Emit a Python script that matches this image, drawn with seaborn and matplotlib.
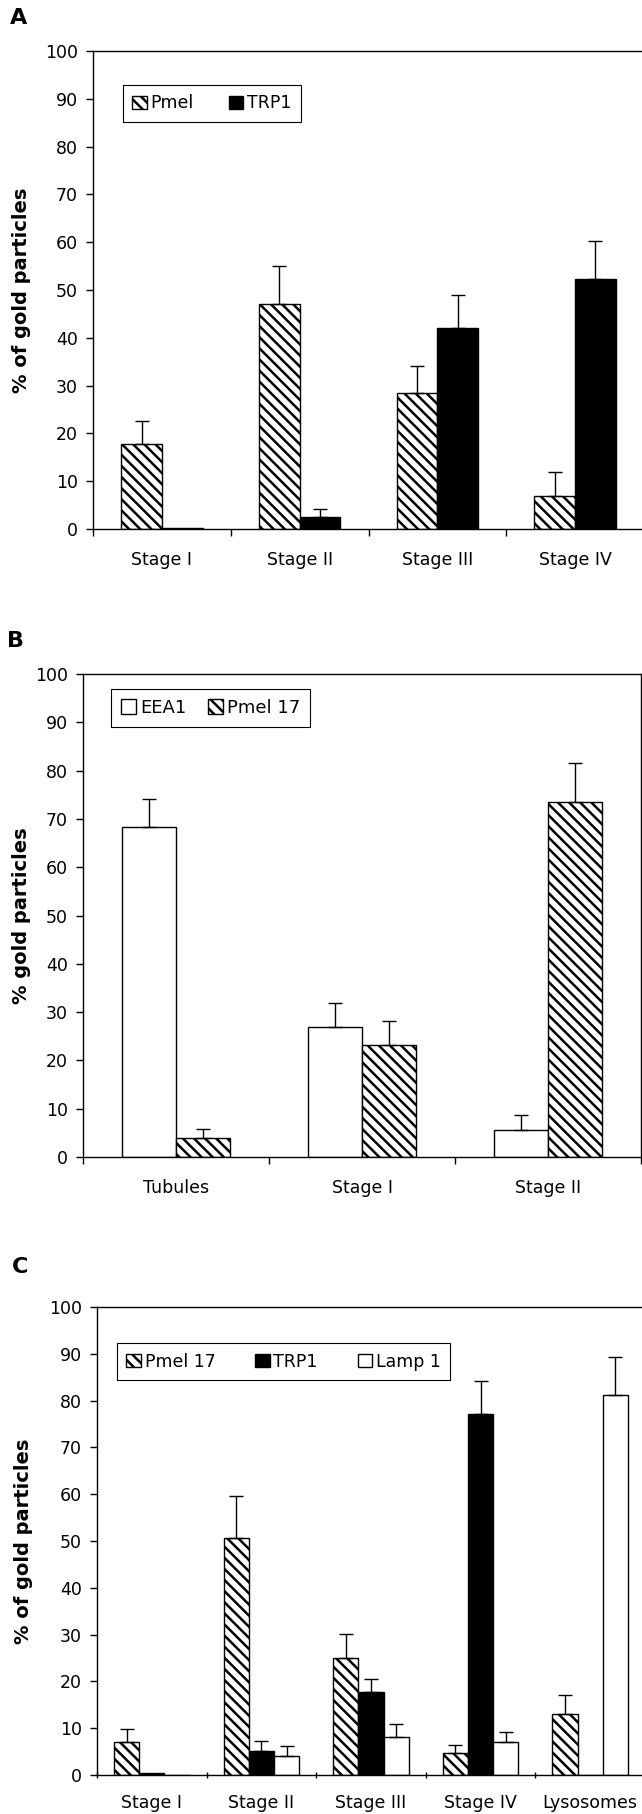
import numpy as np
import pandas as pd
import seaborn as sns
import matplotlib.pyplot as plt

# ---- panel A data ----
a_cats = ['Stage I', 'Stage II', 'Stage III', 'Stage IV']
a_series = ['Pmel', 'TRP1']
a_pmel = [17.8, 47.0, 28.4, 7.0]
a_pmel_err = [4.8, 8.0, 5.8, 5.0]
a_trp1 = [0.2, 2.5, 42.1, 52.2]
a_trp1_err = [0.0, 1.7, 6.9, 8.0]

# ---- panel B data ----
b_cats = ['Tubules', 'Stage I', 'Stage II']
b_series = ['EEA1', 'Pmel 17']
b_eea1 = [68.4, 26.9, 5.6]
b_eea1_err = [5.8, 4.9, 3.0]
b_pmel = [3.9, 23.2, 73.4]
b_pmel_err = [1.8, 5.0, 8.1]

# ---- panel C data ----
c_cats = ['Stage I', 'Stage II', 'Stage III', 'Stage IV', 'Lysosomes']
c_series = ['Pmel 17', 'TRP1', 'Lamp 1']
c_pmel = [7.1, 50.6, 25.1, 4.6, 13.1]
c_pmel_err = [2.8, 9.1, 5.0, 1.9, 4.1]
c_trp1 = [0.4, 5.1, 17.8, 77.2, 0.0]
c_trp1_err = [0.0, 2.1, 2.8, 6.9, 0.0]
c_lamp = [0.1, 4.0, 8.1, 7.1, 81.2]
c_lamp_err = [0.0, 2.1, 2.9, 2.1, 8.1]

sns.set_style('ticks')
plt.rcParams['font.family'] = ['DejaVu Sans']
plt.rcParams['hatch.linewidth'] = 1.8
# seaborn's ticks style greys the text; the figure uses plain black
for key in ['text.color', 'axes.labelcolor', 'xtick.color', 'ytick.color',
            'axes.edgecolor']:
    plt.rcParams[key] = 'black'

FILL = {'Pmel': 'white', 'Pmel 17': 'white', 'TRP1': 'black',
        'EEA1': 'white', 'Lamp 1': 'white'}
HATCHED = ('Pmel', 'Pmel 17')

W, H = 642, 1814


def make_frame(cats, series, values):
    rows = []
    for name, vals in zip(series, values):
        for c, v in zip(cats, vals):
            rows.append({'cat': c, 'series': name, 'val': v})
    return pd.DataFrame(rows)


def panel(ax, cats, series, values, errors, width, ylabel, label_x,
          leg_xy, leg_fs, colspacing, xpad, right_spine, tick_dir):
    df = make_frame(cats, series, values)
    sns.barplot(data=df, x='cat', y='val', hue='series', order=cats,
                hue_order=series, palette=FILL, width=width, gap=0,
                edgecolor='black', linewidth=1.0, errorbar=None,
                saturation=1, legend=False, ax=ax)

    # hatching + upper-only error bars
    for cont, name, errs in zip(ax.containers, series, errors):
        xs, ys, es = [], [], []
        for bar, e in zip(cont, errs):
            if name in HATCHED:
                bar.set_hatch('\\\\\\')
            if e > 0:
                xs.append(bar.get_x() + bar.get_width() / 2)
                ys.append(bar.get_height())
                es.append(e)
        ax.errorbar(xs, ys, yerr=[np.zeros(len(es)), es], fmt='none',
                    ecolor='black', elinewidth=1.0, capsize=5, capthick=1.0)

    ax.set_ylim(0, 100)
    ax.set_xlim(-0.5, len(cats) - 0.5)
    ax.set_yticks(range(0, 101, 10))
    ax.tick_params(axis='y', direction='out', length=5, width=1,
                   labelsize=12.5, pad=6)
    ax.set_xticks(range(len(cats)))
    ax.set_xticks(np.arange(-0.5, len(cats), 1.0), minor=True)
    ax.tick_params(axis='x', which='major', length=0, labelsize=12.5,
                   pad=xpad)
    ax.tick_params(axis='x', which='minor', direction=tick_dir, length=5,
                   width=1)
    ax.set_xlabel('')
    ax.set_ylabel(ylabel, fontsize=14, fontweight='bold')
    ax.yaxis.set_label_coords(label_x, 0.5)

    for s in ['left', 'top', 'bottom', 'right']:
        ax.spines[s].set_visible(True)
        ax.spines[s].set_linewidth(1.0)
        ax.spines[s].set_color('black')
    ax.spines['right'].set_visible(right_spine)

    leg = ax.legend(handles=ax.containers[:len(series)], labels=series,
                    loc='upper left', bbox_to_anchor=leg_xy,
                    borderaxespad=0, ncol=len(series), fontsize=leg_fs,
                    handlelength=0.85, handleheight=0.85, handletextpad=0.2,
                    columnspacing=colspacing, borderpad=0.55,
                    fancybox=False, framealpha=1)
    leg.get_frame().set_edgecolor('black')
    leg.get_frame().set_linewidth(0.8)


def box(left, right, top, bottom):
    return [left / W, 1 - bottom / H, (right - left) / W, (bottom - top) / H]


fig = plt.figure(figsize=(W / 100, H / 100), dpi=100)

ax_a = fig.add_axes(box(93, 644, 51, 529))
panel(ax_a, a_cats, a_series, [a_pmel, a_trp1], [a_pmel_err, a_trp1_err],
      0.59, '% of gold particles', -0.113, (0.054, 0.929), 12.5, 2.0, 16,
      False, 'out')

ax_b = fig.add_axes(box(83, 641, 674, 1157))
panel(ax_b, b_cats, b_series, [b_eea1, b_pmel], [b_eea1_err, b_pmel_err],
      0.58, '% gold particles', -0.093, (0.050, 0.969), 13, 1.2, 16,
      True, 'out')

ax_c = fig.add_axes(box(97, 645, 1307, 1775))
panel(ax_c, c_cats, c_series, [c_pmel, c_trp1, c_lamp],
      [c_pmel_err, c_trp1_err, c_lamp_err],
      0.69, '% of gold particles', -0.117, (0.036, 0.923), 12.5, 2.3, 14,
      False, 'inout')

for txt, x, y in [('A', 10, 8), ('B', 7, 631), ('C', 12, 1257)]:
    fig.text(x / W, 1 - y / H, txt, fontsize=16, fontweight='bold',
             ha='left', va='top')

fig.savefig('out.png', dpi=100)
